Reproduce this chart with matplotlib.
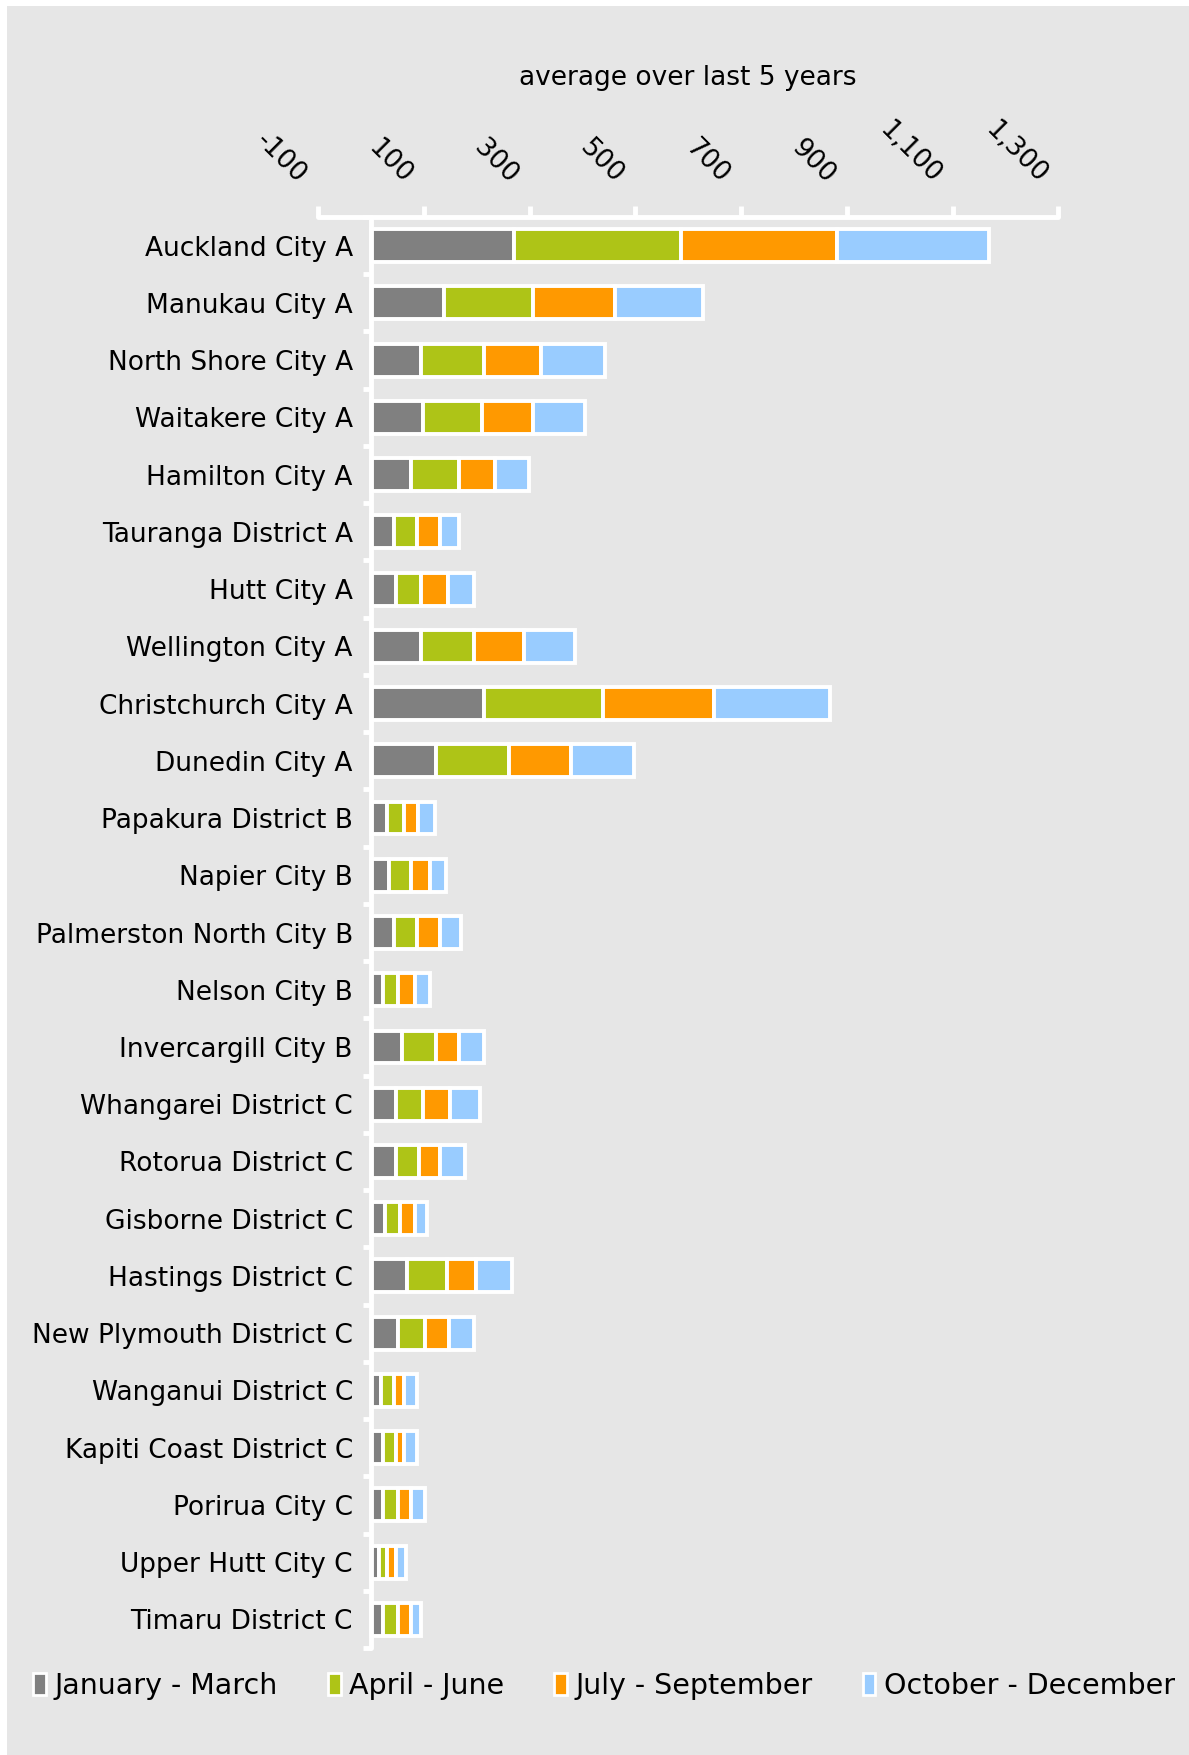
import numpy as np
import matplotlib.pyplot as plt
from matplotlib.patches import Patch, Rectangle
from matplotlib.transforms import ScaledTranslation

districts = ['Auckland City A', 'Manukau City A', 'North Shore City A', 'Waitakere City A',
             'Hamilton City A', 'Tauranga District A', 'Hutt City A', 'Wellington City A',
             'Christchurch City A', 'Dunedin City A', 'Papakura District B', 'Napier City B',
             'Palmerston North City B', 'Nelson City B', 'Invercargill City B',
             'Whangarei District C', 'Rotorua District C', 'Gisborne District C',
             'Hastings District C', 'New Plymouth District C', 'Wanganui District C',
             'Kapiti Coast District C', 'Porirua City C', 'Upper Hutt City C', 'Timaru District C']

# quarterly averages
jan_mar = [271, 138, 95, 99, 75, 43, 47, 95, 214, 123, 31, 35, 43, 23, 59,
           47, 47, 27, 68, 51, 19, 23, 23, 15, 23]
apr_jun = [315, 168, 119, 112, 91, 45, 48, 99, 224, 139, 32, 40, 45, 28, 64,
           51, 44, 28, 75, 52, 24, 24, 28, 16, 28]
jul_sep = [295, 155, 108, 95, 68, 43, 51, 96, 211, 116, 27, 36, 43, 32, 43,
           51, 40, 28, 56, 44, 20, 16, 24, 16, 24]
oct_dec = [288, 167, 120, 99, 64, 35, 48, 96, 219, 120, 32, 31, 40, 28, 48,
           57, 47, 24, 68, 47, 24, 24, 28, 20, 20]

quarters = ['January - March', 'April - June', 'July - September', 'October - December']
colors = ['#808080', '#aec417', '#ff9900', '#99ccff']
x_ticks = [-100, 100, 300, 500, 700, 900, 1100, 1300]

W, H = 1189, 1755
fs = 19
fig = plt.figure(figsize=(W / 100, H / 100), dpi=100, facecolor='white')
fig.patches.append(Rectangle((7 / W, 0), 1, 1 - 6 / H, transform=fig.transFigure,
                             facecolor='#e6e6e6', edgecolor='none', zorder=-1))

ax = fig.add_axes([318 / W, 107 / H, 740.5 / W, 1431 / H])
ax.set_facecolor('none')

y = np.arange(len(districts))
left = np.zeros(len(districts))
for vals, name, c in zip([jan_mar, apr_jun, jul_sep, oct_dec], quarters, colors):
    ax.barh(y, vals, left=left, height=0.575, color=c, edgecolor='white',
            linewidth=2.8, label=name)
    left += np.array(vals)

ax.set_xlim(-100, 1300)
ax.set_ylim(len(districts) - 0.5, -0.5)

# category axis at zero
ax.set_yticks(y, districts)
ax.set_yticks(np.arange(-0.5, len(districts), 1), minor=True)
ax.tick_params(axis='y', which='major', length=0, pad=13, labelsize=fs)
ax.tick_params(axis='y', which='minor', direction='out', length=6, width=3.5, color='white')

# x axis on top, rotated labels
ax.xaxis.tick_top()
ax.set_xticks(x_ticks, [f'{v:,}' for v in x_ticks])
ax.tick_params(axis='x', direction='out', length=8, width=3.5, color='white',
               labelcolor='black', labelsize=fs, pad=14)
shift = ScaledTranslation(-0.16, 0.07, fig.dpi_scale_trans)
for lbl in ax.get_xticklabels():
    lbl.set_rotation(-45)
    lbl.set_ha('right')
    lbl.set_va('center')
    lbl.set_rotation_mode('anchor')
    lbl.set_transform(lbl.get_transform() + shift)

ax.spines['right'].set_visible(False)
ax.spines['bottom'].set_visible(False)
ax.spines['top'].set_color('white')
ax.spines['top'].set_linewidth(3.5)
ax.spines['left'].set_position(('data', 0))
ax.spines['left'].set_color('white')
ax.spines['left'].set_linewidth(3.5)
for s in ['top', 'left']:
    ax.spines[s].set_capstyle('round')

fig.text(688 / W, 1 - 78 / H, 'average over last 5 years', ha='center', va='center',
         fontsize=fs)

handles = [Patch(facecolor=c, edgecolor='white', linewidth=2) for c in colors]
fig.legend(handles, quarters, loc='center left', bbox_to_anchor=(22 / W, 69 / H),
           ncol=4, frameon=False, fontsize=20.5, handlelength=0.45, handleheight=0.8,
           handletextpad=0.3, columnspacing=1.75, borderaxespad=0)

fig.savefig('out.png', dpi=100, facecolor=fig.get_facecolor())
